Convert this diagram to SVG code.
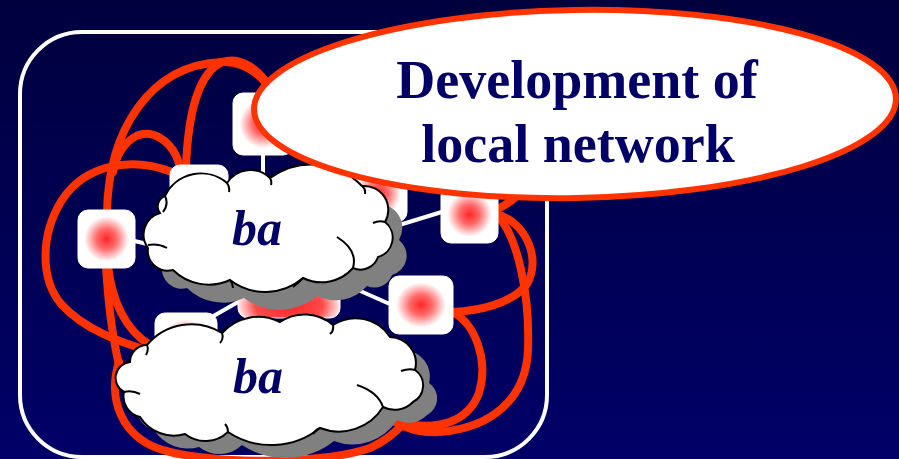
<svg xmlns="http://www.w3.org/2000/svg" width="899" height="459" viewBox="0 0 899 459">
<defs>
<linearGradient id="bg" x1="0" y1="0" x2="0" y2="1">
<stop offset="0" stop-color="#00003e"/>
<stop offset="1" stop-color="#000068"/>
</linearGradient>
<radialGradient id="ng" cx="50%" cy="50%" r="50%">
<stop offset="0" stop-color="#ff2626"/>
<stop offset="0.35" stop-color="#ff6a6a"/>
<stop offset="0.78" stop-color="#ffffff"/>
</radialGradient>
<radialGradient id="ngf" cx="50%" cy="78%" r="55%">
<stop offset="0" stop-color="#ff2626"/>
<stop offset="0.6" stop-color="#ff4a4a"/>
<stop offset="0.95" stop-color="#ffffff"/>
</radialGradient>
<path id="cloudU" d="M165,196 A40,40 0 0 1 227,183 A28,28 0 0 1 270,178 A70,70 0 0 1 362,186 A24,24 0 0 1 385,222 A20,20 0 0 1 378,257 A18.5,18.5 0 0 1 353,268 A42,42 0 0 1 303,278 A58,58 0 0 1 230,280 A51,51 0 0 1 173,270 A20,20 0 0 1 148,248 A22.5,22.5 0 0 1 160,213 A11,11 0 0 1 165,196 Z"/>
<path id="cloudL" d="M147,345 A58,58 0 0 1 222,333 A48.5,48.5 0 0 1 280,322 A43.5,43.5 0 0 1 333,325 A41,41 0 0 1 390,337 A26.4,26.4 0 0 1 415,370 A18.7,18.7 0 0 1 413,402 A25.6,25.6 0 0 1 383,407 A52,52 0 0 1 320,428 A78,78 0 0 1 228,432 A33,33 0 0 1 185,434 A40,40 0 0 1 140,417 A21,21 0 0 1 124,392 A16,16 0 0 1 130,362 A17,17 0 0 1 147,345 Z"/>
</defs>
<style>
.red{fill:none;stroke:#ff3300;stroke-width:8;stroke-linecap:round}
.wl{fill:none;stroke:#ffffff;stroke-width:4}
.node{fill:url(#ng);stroke:#ffffff;stroke-width:1}
.shadow{fill:#808080}
.cloud{fill:#ffffff;stroke:#000000;stroke-width:2}
.curl{fill:none;stroke:#000000;stroke-width:2}
.ba{font-family:"Liberation Serif","Times New Roman",serif;font-weight:bold;font-style:italic;font-size:50px;fill:#000066;text-anchor:middle}
.title{font-family:"Liberation Serif","Times New Roman",serif;font-weight:bold;font-size:54px;fill:#000066;text-anchor:middle}
</style>
<rect x="0" y="0" width="899" height="459" fill="url(#bg)"/>
<rect id="frame" x="20" y="32" width="527" height="425" rx="62" fill="none" stroke="#ffffff" stroke-width="4"/>
<g id="connectors">
<path class="red" d="M107,214 C108,130 150,65 222,62 C245,61 262,75 275,95"/>
<path class="red" d="M186,168 C188,110 200,72 222,62 C240,56 258,68 272,90"/>
<path class="red" d="M113,172 C118,145 135,132 150,134 C165,137 176,150 180,167"/>
<path class="red" d="M172,172 C130,156 85,165 62,200 C40,235 40,280 62,305 C85,330 120,342 152,352"/>
<path class="red" d="M106,266 C108,300 112,335 119,365"/>
<path class="red" d="M108,266 C112,300 125,330 150,345"/>
<path class="red" d="M119,362 C108,395 118,440 170,452 C230,466 330,462 370,448 C388,440 398,430 405,422"/>
<path class="red" d="M495,210 C508,205 520,195 530,180"/>
<path class="red" d="M497,214 C525,222 542,258 527,284 C512,304 478,311 452,312"/>
<path class="red" d="M498,216 C518,238 530,295 528,350 C526,400 490,428 440,432 C420,433 405,428 395,422"/>
<path class="red" d="M452,312 C475,323 489,360 479,393 C468,422 438,432 398,422"/>
<line class="wl" x1="263" y1="150" x2="263" y2="178"/>
<line class="wl" x1="130" y1="240" x2="152" y2="245"/>
<line class="wl" x1="445" y1="211" x2="396" y2="226"/>
<line class="wl" x1="392" y1="305" x2="340" y2="282"/>
<line class="wl" x1="210" y1="318" x2="245" y2="298"/>
</g>
<g id="node-g"><rect class="node" x="155" y="313" width="62" height="58" rx="10"/></g>
<g id="node-f"><rect class="node" x="238" y="262" width="102" height="56" rx="10" style="fill:url(#ngf)"/></g>
<g id="node-a"><rect class="node" x="233" y="93" width="60" height="62" rx="10"/></g>
<g id="node-i"><rect class="node" x="310" y="105" width="58" height="60" rx="10"/></g>
<g id="node-b"><rect class="node" x="170" y="165" width="58" height="58" rx="10"/></g>
<g id="node-c"><rect class="node" x="78" y="210" width="57" height="58" rx="10"/></g>
<g id="node-h"><rect class="node" x="350" y="165" width="57" height="57" rx="10"/></g>
<g id="node-d"><rect class="node" x="441" y="186" width="57" height="57" rx="10"/></g>
<g id="node-e"><rect class="node" x="389" y="276" width="64" height="58" rx="10"/></g>
<g id="cloud-upper">
<use href="#cloudU" class="shadow" transform="translate(14,18)"/>
<use href="#cloudU" class="cloud"/>
<path class="curl" d="M165,196 q4,8 -2,16 M148,245 q10,-2 19,3 M227,183 q3,4 2,9 M270,178 q2,3 1,7 M362,186 q4,3 3,8 M385,222 q-6,-2 -12,1 M353,268 Q358,250 337,237 M303,278 q-4,5 -10,9 M230,280 q3,4 3,8"/>
<text class="ba" x="257" y="245">ba</text>
</g>
<g id="cloud-lower">
<use href="#cloudL" class="shadow" transform="translate(14,13)"/>
<use href="#cloudL" class="cloud"/>
<path class="curl" d="M147,345 q2,5 -1,10 M222,333 q2,6 -2,10 M333,325 q1,6 -3,9 M415,370 q-6,-2 -14,1 M383,407 Q378,392 357,385 M320,428 q-5,2 -7,6 M228,432 q0,-5 -3,-8 M124,392 q8,-2 16,2"/>
<text class="ba" x="258" y="393">ba</text>
</g>
<g id="callout">
<ellipse cx="575" cy="104" rx="321" ry="94" fill="#ffffff" stroke="#ff3300" stroke-width="6" transform="rotate(-1 575 104)"/>
<text class="title" x="577" y="98">Development of</text>
<text class="title" x="578" y="162">local network</text>
</g>
</svg>
